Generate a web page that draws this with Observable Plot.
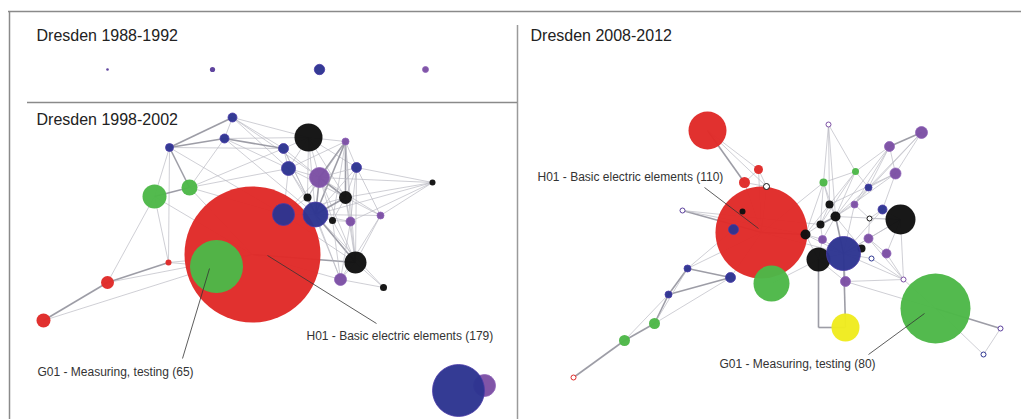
<!DOCTYPE html>
<html>
<head>
<meta charset="utf-8">
<script src="https://cdn.jsdelivr.net/npm/d3@7"></script>
<script src="https://cdn.jsdelivr.net/npm/@observablehq/plot@0.6"></script>
<style>
  html, body { margin: 0; padding: 0; background: #fff; }
  #chart svg { display: block; }
</style>
</head>
<body>
<div id="chart"></div>
<script>
// ---- Data -------------------------------------------------------------
// Panel titles
const panelTitles = [
  {text: "Dresden 1988-1992", x: 36, y: 35},
  {text: "Dresden 1998-2002", x: 36, y: 119},
  {text: "Dresden 2008-2012", x: 530, y: 35}
];

// Technology classes (colour groups)
const groups = ["H", "G", "B", "P", "K", "Y", "Q"];
const groupColors = ["#e02a28", "#4db848", "#2d3591", "#7c4fa4", "#111111", "#efeb1f", "#5b3f9c"];

// Nodes in drawing order: [id, x, y, radius, group, ring]
const nodes1988 = [
  ["a1", 107, 69, 1.3, "Q", 0],
  ["a2", 212, 69, 2.6, "Q", 0],
  ["a3", 319, 69, 5.2, "B", 0],
  ["a4", 425, 69, 3.0, "P", 0]
];

const nodes1998 = [
  ["bH", 252, 254, 68, "H", 0],
  ["bG", 216, 266, 26.5, "G", 0],
  ["b1", 232, 117, 4.5, "B", 0],
  ["b2", 224, 138, 4.5, "B", 0],
  ["b3", 169, 147, 4, "B", 0],
  ["b4", 283, 148, 5, "B", 0],
  ["b5", 308, 137, 14, "K", 0],
  ["b6", 345, 141, 3.5, "P", 0],
  ["b7", 288, 168, 7, "B", 0],
  ["b8", 319, 177, 10, "P", 0],
  ["b9", 356, 167, 5, "B", 0],
  ["b10", 432, 182, 3, "K", 0],
  ["b11", 154, 196, 12, "G", 0],
  ["b12", 189, 187, 8, "G", 0],
  ["b13", 307, 197, 4, "K", 0],
  ["b14", 345, 197, 6.5, "K", 0],
  ["b15", 283, 214, 11, "B", 0],
  ["b16", 315, 214, 12.5, "B", 0],
  ["b17", 332, 220, 3.5, "K", 0],
  ["b18", 350, 221, 4.5, "P", 0],
  ["b19", 380, 215, 3.5, "P", 0],
  ["b20", 168, 262, 3, "H", 0],
  ["b21", 107, 282, 6.5, "H", 0],
  ["b22", 43, 320, 7, "H", 0],
  ["b23", 355, 262, 11, "K", 0],
  ["b24", 340, 279, 6, "P", 0],
  ["b25", 383, 287, 3.5, "K", 0],
  ["b26", 484, 385, 11, "P", 0],
  ["b27", 458, 390, 26, "B", 0]
];

const nodes2008 = [
  ["cH", 761, 232, 46, "H", 0],
  ["cG", 935, 308, 35, "G", 0],
  ["c1", 707, 130, 19, "H", 0],
  ["c2", 758, 169, 4.5, "H", 0],
  ["c3", 744, 182, 5.5, "H", 0],
  ["c4", 766, 186, 3, "K", 1],
  ["c5", 682, 210, 2.5, "Q", 1],
  ["c6", 742, 211, 3, "K", 0],
  ["c7", 733, 229, 5, "B", 0],
  ["c8", 805, 234, 5, "K", 0],
  ["c9", 828, 124, 2.5, "P", 1],
  ["c10", 921, 132, 6, "P", 0],
  ["c11", 889, 146, 5, "P", 0],
  ["c12", 855, 171, 3.5, "G", 0],
  ["c13", 895, 173, 5.5, "P", 0],
  ["c14", 823, 182, 4, "G", 0],
  ["c15", 868, 187, 3.5, "B", 0],
  ["c16", 829, 204, 4, "K", 0],
  ["c17", 854, 204, 3.5, "P", 0],
  ["c18", 882, 209, 4.5, "B", 0],
  ["c19", 900, 219, 15, "K", 0],
  ["c20", 835, 216, 5, "K", 0],
  ["c21", 869, 218, 2.5, "K", 1],
  ["c22", 820, 224, 4, "K", 0],
  ["c23", 822, 239, 4, "P", 0],
  ["c24", 868, 238, 4.5, "P", 0],
  ["c25", 861, 248, 4, "K", 0],
  ["c27", 818, 259, 12, "K", 0],
  ["c26", 843, 253, 17, "B", 0],
  ["c28", 886, 253, 4.5, "P", 0],
  ["c29", 871, 258, 2.5, "B", 1],
  ["c30", 845, 281, 5, "P", 0],
  ["c31", 903, 279, 2.5, "P", 1],
  ["c32", 687, 268, 3.5, "B", 0],
  ["c33", 730, 277, 5, "B", 0],
  ["cG2", 771, 283, 18, "G", 0],
  ["c34", 668, 294, 3.5, "B", 0],
  ["c35", 654, 323, 5.5, "G", 0],
  ["c36", 624, 340, 5.5, "G", 0],
  ["c37", 573, 377, 2.5, "H", 1],
  ["c38", 845, 327, 14, "Y", 0],
  ["c39", 1000, 328, 2.5, "Q", 1],
  ["c40", 983, 354, 2.5, "B", 1],
  ["cbend", 818, 327, 0, "K", 0]
];

// Edges: [source, target, weight]
const edges1998 = [
  ["b1","b3",2],["b1","b2",1],["b1","b4",1],["b1","b5",1],["b1","b7",1],["b1","b8",1],
  ["b2","b3",2],["b2","b4",2],["b2","b12",1],["b2","b7",1],["b2","b16",1],["b2","b5",1],
  ["b3","b11",1],["b3","b12",2],["b3","b20",1],["b3","b15",1],["b3","b4",1],
  ["b11","b12",2],["b11","b20",1],["b11","b21",1],["b11","bH",1],
  ["b12","bH",1],["b12","b7",1],["b12","b15",1],["b12","b4",1],
  ["b4","b5",1],["b4","b7",1],["b4","b16",1],["b4","b8",1],["b4","b13",1],
  ["b5","b6",1],["b5","b8",1],["b5","b9",1],["b5","b16",1],["b5","b14",1],["b5","b7",1],["b5","b13",1],
  ["b6","b8",2],["b6","b13",1],["b6","b14",2],["b6","b17",1],["b6","b16",2],["b6","b23",1],["b6","b9",1],["b6","b7",1],["b6","b18",1],
  ["b7","b8",1],["b7","b15",1],["b7","b16",1],["b7","b13",1],["b7","b14",1],
  ["b8","b13",1],["b8","b14",2],["b8","b16",2],["b8","b9",1],["b8","b23",1],["b8","b15",1],["b8","b17",1],["b8","b19",1],
  ["b9","b10",1],["b9","b14",1],["b9","b16",1],["b9","b23",1],["b9","b19",1],["b9","b18",1],
  ["b10","b14",1],["b10","b19",1],["b10","b18",1],["b10","b16",1],["b10","b8",1],
  ["b13","b16",2],["b13","b15",1],["b14","b16",2],["b14","b18",1],["b14","b19",1],["b14","b23",1],["b14","b17",1],
  ["b15","b16",1],["b16","b17",1],["b16","b23",2],["b16","b24",1],["b16","b18",1],["b16","b25",1],
  ["b17","b18",1],["b17","b23",1],["b18","b23",1],["b19","b23",1],["b19","b16",1],["b19","b24",1],
  ["b23","b24",1],["b23","b25",1],["b24","bH",1],["b23","bH",2],["b24","b25",1],["b18","b24",1],
  ["b20","b21",2],["b21","b22",2],["b20","bG",1],["b21","bH",1],["b22","bH",1],["b20","bH",1],
  ["b15","b23",1],["b15","b14",1],["b13","b24",1],["b17","b24",1]
];

const edges2008 = [
  ["c1","c3",2],["c1","c2",1],["c1","c4",1],["c2","c3",1],["c2","c4",1],["c3","c4",1],
  ["c4","cH",1],["c3","cH",1],["c2","cH",1],["c5","cH",2],["c5","c8",1],["c5","c22",1],
  ["c9","c14",1],["c9","c12",1],["c9","c20",1],["c9","c16",1],
  ["c10","c11",2],["c10","c13",1],["c10","c15",1],["c10","c17",1],
  ["c11","c13",1],["c11","c12",1],["c11","c15",1],["c11","c17",1],["c11","c20",1],
  ["c12","c14",1],["c12","c16",1],["c12","c15",1],["c12","c20",1],["c12","c22",1],
  ["c13","c15",1],["c13","c18",1],["c13","c20",1],["c13","c16",1],
  ["c14","c16",1],["c14","c22",1],["c14","cH",1],["c14","c20",1],["c14","c8",1],
  ["c15","c17",1],["c15","c20",1],["c16","c20",1],["c16","c22",1],["c16","c8",1],
  ["c17","c20",1],["c17","c21",1],["c17","c26",1],
  ["c18","c19",1],["c18","c21",1],["c18","c26",1],
  ["c19","c21",1],["c19","c26",1],["c19","c28",1],["c19","c31",1],["c19","c20",1],["c19","c24",1],
  ["c20","c22",2],["c20","c23",1],["c20","c26",2],["c20","c25",1],["c21","c24",1],
  ["c22","c8",1],["c22","c23",1],["c8","c23",1],["c8","cH",2],["c8","c26",1],["c8","c27",1],
  ["c23","c26",1],["c23","c27",1],["c24","c26",1],["c24","c28",1],["c24","c31",1],
  ["c25","c26",1],["c26","c27",1],["c26","c30",1],["c26","c29",1],["c26","c31",1],
  ["c27","c30",1],["c27","cbend",2],["cbend","c38",2],["c26","c38",2],
  ["c28","c31",1],["c29","c31",1],["c30","c31",1],["c30","cG",1],["c31","cG",1],
  ["cG","c39",2],["cG","c40",1],["c39","c40",1],
  ["cH","c32",1],["cH","c33",1],["c32","c33",2],["c32","c34",2],["c33","c34",2],
  ["c34","c35",2],["c33","c35",1],["c35","c36",2],["c36","c37",2],["c34","c36",1],["c32","c35",1],
  ["c27","cG2",1],["cH","c26",1],["c7","c32",1]
];

// Annotations: [text, labelX, labelY, node id, leader x1, y1, x2, y2]
const annotations = [
  ["H01 - Basic electric elements (179)", 306, 336, "bH", 376, 323, 267, 255],
  ["G01 - Measuring, testing (65)", 37, 372, "bG", 182, 358, 209, 268],
  ["H01 - Basic electric elements (110)", 537, 177, "cH", 704, 187, 758, 228],
  ["G01 - Measuring, testing (80)", 719, 364, "cG", 868, 354, 924, 313]
];

// ---- Build tables -----------------------------------------------------
const toNode = ([id, x, y, r, group, ring]) => ({id, x, y, r, group, ring: !!ring});
const allNodes = [...nodes1988, ...nodes1998, ...nodes2008].map(toNode);
const byId = new Map(allNodes.map(d => [d.id, d]));
const links = [...edges1998, ...edges2008].map(([a, b, w]) => {
  const s = byId.get(a), t = byId.get(b);
  return {x1: s.x, y1: s.y, x2: t.x, y2: t.y, w};
});
const solid = allNodes.filter(d => d.r > 0 && !d.ring);
const rings = allNodes.filter(d => d.r > 0 && d.ring);
const leaders = annotations.map(([text, lx, ly, id, x1, y1, x2, y2]) => ({x1, y1, x2, y2}));
const labels = annotations.map(([text, lx, ly]) => ({text, x: lx, y: ly}));

// ---- Chart ------------------------------------------------------------
const W = 1021, H = 419;
const chart = Plot.plot({
  width: W,
  height: H,
  margin: 0,
  x: {domain: [0, W], range: [0, W], axis: null},
  y: {domain: [0, H], range: [0, H], axis: null},
  r: {type: "identity"},
  color: {domain: groups, range: groupColors},
  style: {fontFamily: "'Liberation Sans', Arial, sans-serif", background: "#fff"},
  marks: [
    // panel frame
    Plot.ruleY([11], {x1: 8, x2: W, stroke: "#8a8a8a", strokeWidth: 1.5}),
    Plot.ruleX([9], {y1: 11, y2: H, stroke: "#8a8a8a", strokeWidth: 1.5}),
    Plot.ruleX([517], {y1: 25, y2: H, stroke: "#9a9a9a", strokeWidth: 1.5}),
    Plot.ruleY([102], {x1: 27, x2: 517, stroke: "#8a8a8a", strokeWidth: 1.5}),
    // edges
    Plot.link(links, {
      x1: "x1", y1: "y1", x2: "x2", y2: "y2",
      stroke: d => d.w > 1 ? "#8c8c96" : "#b8b8c0",
      strokeWidth: d => d.w > 1 ? 1.6 : 0.8,
      strokeOpacity: 0.85
    }),
    // nodes (array order = drawing order)
    Plot.dot(solid, {
      x: "x", y: "y", r: "r", fill: "group", sort: null,
      stroke: d => d.group === "B" ? "#4a3aa8" : d.group === "P" ? "#8e62b8" : "none",
      strokeWidth: 0.8,
      fillOpacity: 0.97
    }),
    Plot.dot(rings, {x: "x", y: "y", r: "r", fill: "#fff", stroke: "group", strokeWidth: 1, sort: null}),
    // annotation leaders
    Plot.link(leaders, {x1: "x1", y1: "y1", x2: "x2", y2: "y2", stroke: "#333", strokeWidth: 0.8}),
    // annotation labels
    Plot.text(labels, {x: "x", y: "y", text: "text", textAnchor: "start", fontSize: 12, fill: "#333"}),
    // titles
    Plot.text(panelTitles, {x: "x", y: "y", text: "text", textAnchor: "start", fontSize: 16, fill: "#222"})
  ]
});
document.getElementById("chart").appendChild(chart);
</script>
</body>
</html>
